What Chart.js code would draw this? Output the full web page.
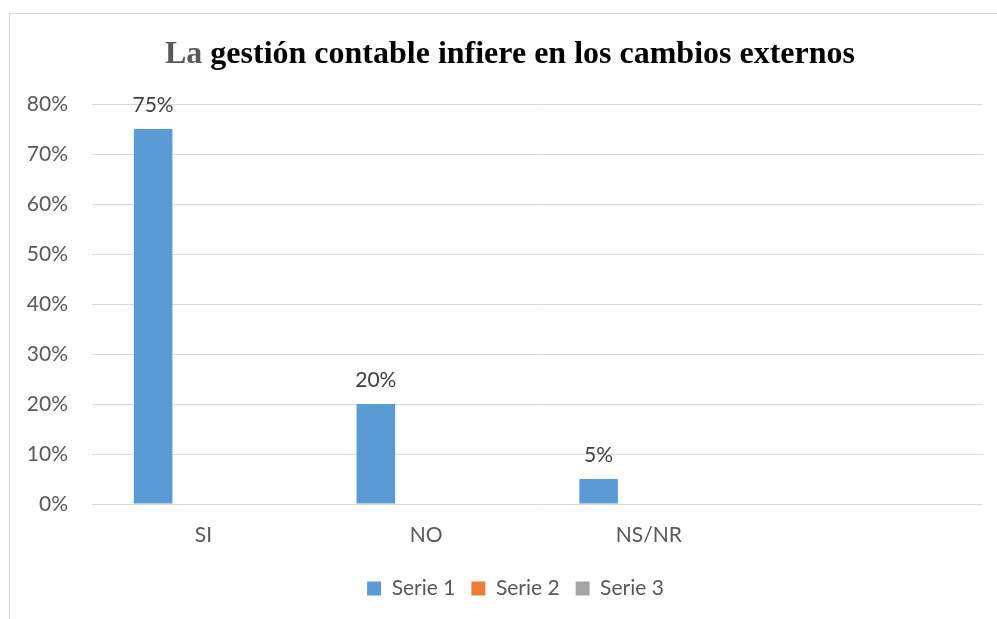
<!DOCTYPE html>
<html>
<head>
<meta charset="utf-8">
<script src="https://cdn.jsdelivr.net/npm/chart.js@4/dist/chart.umd.min.js"></script>
<style>
  html, body { margin: 0; padding: 0; background: #ffffff; }
  #wrap { position: relative; width: 997px; height: 619px; overflow: hidden; }
  #frame { position: absolute; left: 9px; top: 13px; width: 1100px; height: 700px;
           border-left: 1px solid #d9d9d9; border-top: 1px solid #d9d9d9; box-sizing: border-box; }
  #c { position: absolute; left: 0; top: 0; }
</style>
</head>
<body>
<div id="wrap">
  <div id="frame"></div>
  <canvas id="c" width="997" height="619"></canvas>
</div>
<script>
// ---- data ----
const titleLead = "La";
const titleRest = " gestión contable infiere en los cambios externos";
const categories = ["SI", "NO", "NS/NR", ""];
const serie1 = [0.75, 0.20, 0.05, null];
const serie2 = [null, null, null, null];
const serie3 = [null, null, null, null];
const seriesNames = ["Serie 1", "Serie 2", "Serie 3"];
const yTicksMax = 0.8;
const yTicksStep = 0.1;

const pct = v => Math.round(v * 100) + "%";
const SANS = "Lato, 'Open Sans', sans-serif";

const titlePlugin = {
  id: "twoToneTitle",
  afterDraw(chart) {
    const ctx = chart.ctx;
    ctx.save();
    ctx.font = "bold 32px 'Liberation Serif', 'Times New Roman', serif";
    ctx.textBaseline = "alphabetic";
    const wLead = ctx.measureText(titleLead).width;
    const wRest = ctx.measureText(titleRest).width;
    const total = wLead + wRest;
    const cx = 510, base = 63;
    const x0 = cx - total / 2;
    ctx.textAlign = "left";
    ctx.fillStyle = "#595959";
    ctx.fillText(titleLead, x0, base);
    ctx.fillStyle = "#000000";
    ctx.fillText(titleRest, x0 + wLead, base);
    ctx.restore();
  }
};

const legendShift = {
  id: "legendShift",
  afterLayout(chart) {
    const lg = chart.legend;
    if (lg) { lg.left += 24; lg.right += 24; }
  }
};

const labelPlugin = {
  id: "barValueLabels",
  afterDatasetsDraw(chart) {
    const ctx = chart.ctx;
    ctx.save();
    ctx.font = "21px " + SANS;
    ctx.fillStyle = "#404040";
    ctx.textAlign = "center";
    ctx.textBaseline = "middle";
    const meta = chart.getDatasetMeta(0);
    meta.data.forEach((el, i) => {
      const v = chart.data.datasets[0].data[i];
      if (v === null || v === undefined) return;
      ctx.fillText(pct(v), el.x, el.y - 24);
    });
    ctx.restore();
  }
};

new Chart(document.getElementById("c"), {
  type: "bar",
  data: {
    labels: categories,
    datasets: [
      { label: seriesNames[0], data: serie1, backgroundColor: "#5B9BD5" },
      { label: seriesNames[1], data: serie2, backgroundColor: "#ED7D31" },
      { label: seriesNames[2], data: serie3, backgroundColor: "#A5A5A5" }
    ]
  },
  options: {
    responsive: false,
    animation: false,
    devicePixelRatio: 1,
    categoryPercentage: 0.677,
    barPercentage: 0.767,
    layout: { padding: { left: 0, right: 14, top: 104, bottom: 10 } },
    plugins: {
      title: { display: false, text: titleLead + titleRest },
      tooltip: { enabled: false },
      legend: {
        position: "bottom",
        labels: {
          boxWidth: 14, boxHeight: 14,
          color: "#595959",
          font: { family: SANS, size: 21 },
          padding: 16
        }
      }
    },
    scales: {
      x: {
        grid: { display: false },
        border: { display: false },
        ticks: { color: "#595959", font: { family: SANS, size: 21 }, padding: 11, maxRotation: 0 },
        afterFit(s) { s.height = 58; }
      },
      y: {
        min: 0, max: yTicksMax,
        grid: { color: "#d9d9d9", lineWidth: 1, drawTicks: false },
        border: { display: false },
        ticks: {
          stepSize: yTicksStep,
          color: "#595959",
          font: { family: SANS, size: 21 },
          padding: 24,
          callback: v => pct(v)
        },
        afterFit(s) { s.width = 92; }
      }
    }
  },
  plugins: [titlePlugin, labelPlugin, legendShift]
});
</script>
</body>
</html>
